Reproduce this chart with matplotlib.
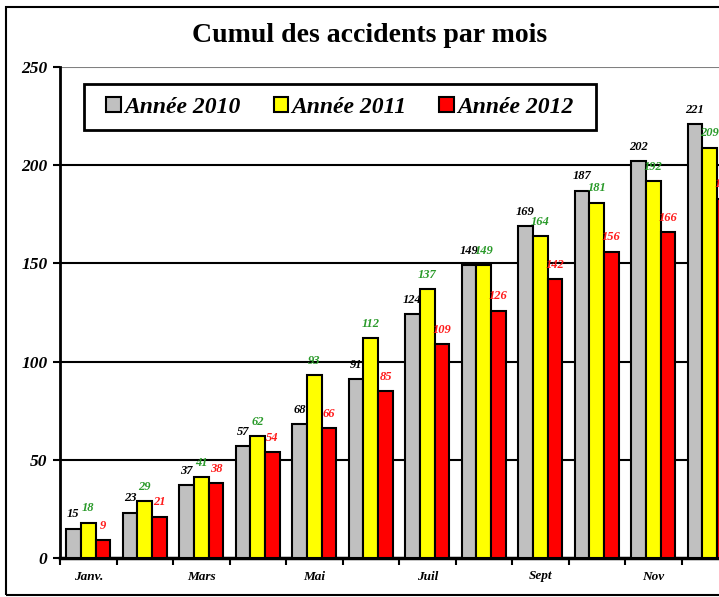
import matplotlib.pyplot as plt
import numpy as np
from matplotlib.patches import Rectangle

months = ["Janv.", "", "Mars", "", "Mai", "", "Juil", "", "Sept", "", "Nov", ""]
years = ["Année 2010", "Année 2011", "Année 2012"]
v2010 = [15, 23, 37, 57, 68, 91, 124, 149, 169, 187, 202, 221]
v2011 = [18, 29, 41, 62, 93, 112, 137, 149, 164, 181, 192, 209]
v2012 = [9, 21, 38, 54, 66, 85, 109, 126, 142, 156, 166, 183]
yticks = [0, 50, 100, 150, 200, 250]

bar_colors = ["#c0c0c0", "#ffff00", "#ff0000"]
label_colors = ["black", "#2a9a2a", "#ff1a1a"]

plt.rcParams['font.family'] = ['Liberation Serif', 'DejaVu Serif']

fig = plt.figure(figsize=(7.19, 5.97), dpi=100)
fig.patch.set_facecolor('white')
# outer frame of the chart
fig.patches.append(Rectangle((6/719, 2/597), 1.2, 588/597, transform=fig.transFigure,
                             fill=False, edgecolor='black', linewidth=1.5))

ax = fig.add_axes([60/719, 39/597, 678/719, 491/597])

x = np.arange(len(months))
w = 0.262
series = [v2010, v2011, v2012]
for i, vals in enumerate(series):
    pos = x + (i - 1) * w
    ax.bar(pos, vals, width=w, color=bar_colors[i], edgecolor='black',
           linewidth=1.5, label=years[i], zorder=3)
    for xp, v in zip(pos, vals):
        ax.annotate(str(v), (xp, v), xytext=(0, 6), textcoords='offset points',
                    ha='center', va='bottom', fontsize=9, fontweight='bold',
                    fontstyle='italic', color=label_colors[i], zorder=4)

ax.set_xlim(-0.5, 11.5)
ax.set_ylim(0, 250)
ax.set_yticks(yticks)
for yv in yticks[1:]:
    ax.axhline(yv, color='#808080' if yv == 250 else 'black', linewidth=1.5, zorder=0)

ax.set_xticks(x)
ax.set_xticklabels(months)
ax.set_xticks(np.arange(-0.5, 12, 1), minor=True)
ax.tick_params(axis='x', which='major', length=0, pad=9)
ax.tick_params(axis='x', which='minor', length=5, width=1.5, direction='out')
ax.tick_params(axis='y', length=5, width=1.5, direction='out', pad=4)
for t in ax.get_xticklabels():
    t.set_fontsize(9.5)
    t.set_fontweight('bold')
    t.set_fontstyle('italic')
for t in ax.get_yticklabels():
    t.set_fontsize(12.5)
    t.set_fontweight('bold')
    t.set_fontstyle('italic')

for s in ['top', 'right']:
    ax.spines[s].set_visible(False)
ax.spines['left'].set_linewidth(2)
ax.spines['bottom'].set_linewidth(2.5)

# legend box drawn separately (wide side padding like the original)
ax.add_patch(Rectangle((0.0354, 0.8717), 0.7552, 0.0937, transform=ax.transAxes,
                       facecolor='white', edgecolor='black', linewidth=2, zorder=5))
leg = ax.legend(loc='center', bbox_to_anchor=(0.413, 0.9185), ncol=3,
                frameon=False, prop={'size': 17, 'weight': 'bold', 'style': 'italic'},
                handlelength=0.6, handleheight=0.6, handletextpad=0.15,
                columnspacing=1.4, borderpad=0.2)
leg.set_zorder(6)

fig.text(370/719, 1 - 35/597, "Cumul des accidents par mois", ha='center', va='center',
         fontsize=20, fontweight='bold')

fig.savefig("out.png", dpi=100)
